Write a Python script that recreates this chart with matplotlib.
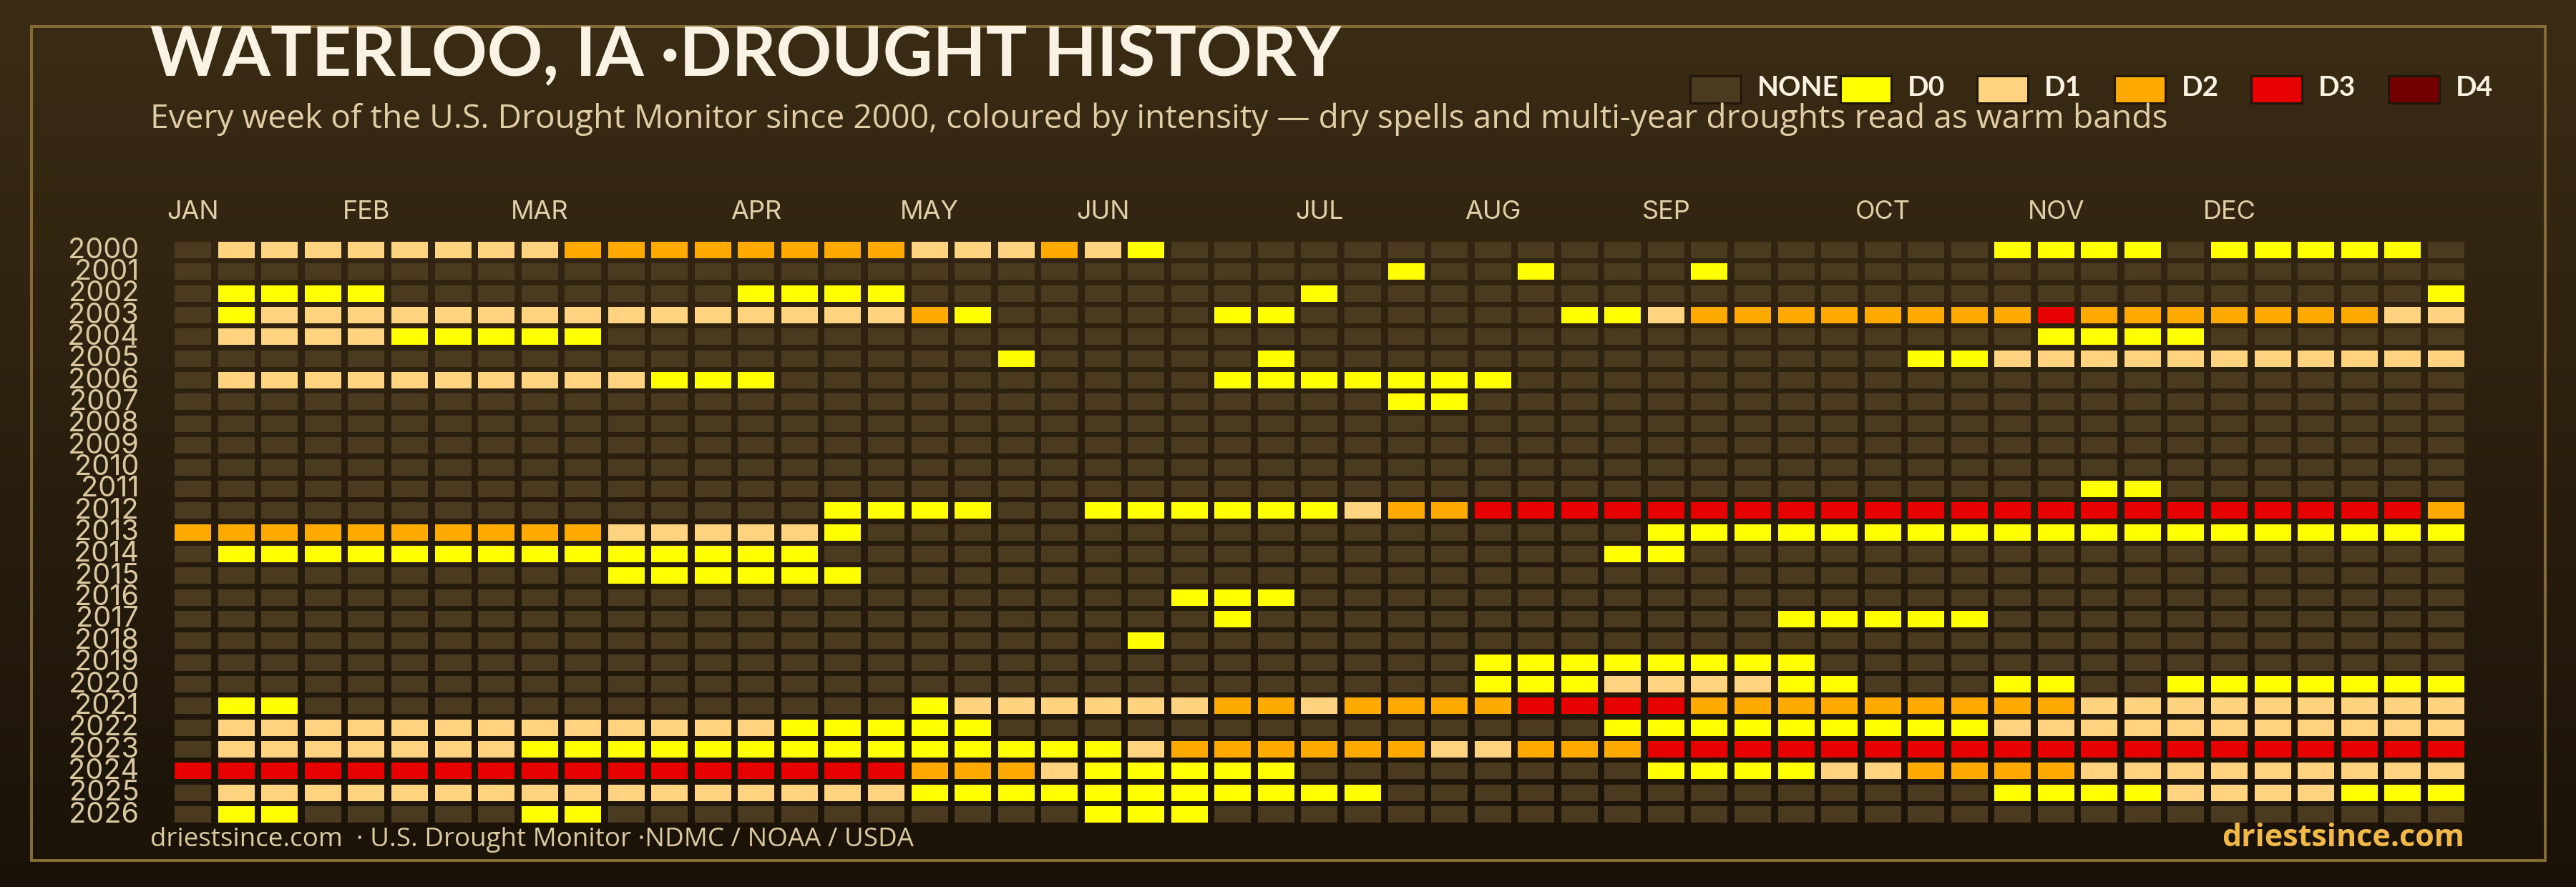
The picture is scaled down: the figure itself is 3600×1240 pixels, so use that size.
import numpy as np
import matplotlib
matplotlib.use('Agg')
import matplotlib.pyplot as plt
from matplotlib.colors import LinearSegmentedColormap
from matplotlib.patches import Rectangle

plt.rcParams['font.family'] = ['Open Sans', 'DejaVu Sans']

years = list(range(2000, 2027))
month_labels = ['JAN', 'FEB', 'MAR', 'APR', 'MAY', 'JUN', 'JUL', 'AUG', 'SEP', 'OCT', 'NOV', 'DEC']
month_weeks = [0, 4, 8, 13, 17, 21, 26, 30, 34, 39, 43, 47]

# one string per year, one char per week: . = none, 0-4 = D0-D4 (spaces only for reading)
weeks = [
    ".111111112 2222222111 210....... .......... ..0000.000 00.",
    ".......... .......... ........0. .0...0.... .......... ...",
    ".0000..... ...0000... ......0... .......... .......... ..0",
    ".011111111 111111120. ....00.... ..00122222 2223222222 211",
    ".111100000 .......... .......... .......... ...0000... ...",
    ".......... .........0 .....0.... .......... 0011111111 111",
    ".111111111 1000...... ....000000 0......... .......... ...",
    ".......... .......... ........00 .......... .......... ...",
    ".......... .......... .......... .......... .......... ...",
    ".......... .......... .......... .......... .......... ...",
    ".......... .......... .......... .......... .......... ...",
    ".......... .......... .......... .......... ....00.... ...",
    ".......... .....0000. .000000122 3333333333 3333333333 332",
    "2222222222 111110.... .......... ....000000 0000000000 000",
    ".000000000 00000..... .......... ...00..... .......... ...",
    ".......... 000000.... .......... .......... .......... ...",
    ".......... .......... ...000.... .......... .......... ...",
    ".......... .......... ....0..... .......000 00........ ...",
    ".......... .......... ..0....... .......... .......... ...",
    ".......... .......... .......... 00000000.. .......... ...",
    ".......... .......... .......... 000111100. ..00..0000 000",
    ".00....... .......011 1111221222 2333322222 2222111111 111",
    ".111111111 111100000. .......... ...0000000 0011111111 111",
    ".111111100 0000000000 0012222221 1222333333 3333333333 333",
    "3333333333 3333333222 100000.... ....000011 2222111111 111",
    ".111111111 1111111000 00000000.. .......... ..00001111 000",
    ".00.....00 .......... .000...... .......... .......... ...",
]

level_keys = ['.', '0', '1', '2', '3', '4']
level_colors = ['#4a3a1f', '#ffff00', '#ffd37f', '#ffaa00', '#e60000', '#730000']
legend_labels = ['NONE', 'D0', 'D1', 'D2', 'D3', 'D4']

title = 'WATERLOO, IA \u00b7DROUGHT HISTORY'
subtitle = ('Every week of the U.S. Drought Monitor since 2000, coloured by intensity \u2014 '
            'dry spells and multi-year droughts read as warm bands')
footer = 'driestsince.com  \u00b7 U.S. Drought Monitor \u00b7NDMC / NOAA / USDA'
site = 'driestsince.com'

W, H = 3600, 1240
fig = plt.figure(figsize=(W / 100, H / 100), dpi=100)

# background + frame + header live in a full-figure pixel axes
bg = fig.add_axes([0, 0, 1, 1])
bg.axis('off')
grad = LinearSegmentedColormap.from_list('bg', ['#3b2c14', '#1a1208'])
bg.imshow(np.linspace(0, 1, 256).reshape(-1, 1), cmap=grad, extent=[0, W, H, 0], aspect='auto', zorder=0)
bg.set_xlim(0, W)
bg.set_ylim(H, 0)
bg.add_patch(Rectangle((44, 37), 3513, 1166, fill=False, ec='#846a36', lw=2.9, zorder=1))

bg.text(210, 105.5, title, color='#faf3e3', fontsize=69.3, fontweight='bold', family=['Lato', 'DejaVu Sans'],
        va='baseline', zorder=3)
bg.text(210, 179, subtitle, color='#e0cda6', fontsize=33.2, va='baseline', zorder=3)
bg.text(210, 1183, footer, color='#dbc9a2', fontsize=26.5, va='baseline', zorder=3)
bg.text(3444, 1183, site, color='#f0b94a', fontsize=31, fontweight='bold', ha='right', va='baseline', zorder=3)

# legend
swatch_x = [2360, 2570, 2761, 2953, 3144, 3336]
label_x = [2456, 2666, 2857, 3049, 3240, 3432]
for sx, lx, col, lab in zip(swatch_x, label_x, level_colors, legend_labels):
    bg.add_patch(Rectangle((sx + 1.5, 105.5), 71, 38, fc=col, ec='#21160a', lw=2.2, zorder=2))
    bg.text(lx, 134, lab, color='#faf3e3', fontsize=28, fontweight='bold', family=['Lato', 'DejaVu Sans'],
            va='baseline', zorder=3)

# heatmap axes, one unit per week / year
pitch_x, pitch_y = 60.55, 30.35
left = 269.7 - pitch_x / 2
top = 349.5 - pitch_y / 2
ax = fig.add_axes([left / W, 1 - (top + 27 * pitch_y) / H, 53 * pitch_x / W, 27 * pitch_y / H])
ax.patch.set_alpha(0)
ax.set_xlim(-0.5, 52.5)
ax.set_ylim(26.5, -0.5)
for s in ax.spines.values():
    s.set_visible(False)

cw, ch = 51 / pitch_x, 23 / pitch_y
for r, row in enumerate(weeks):
    row = row.replace(' ', '')
    assert len(row) == 53, (r, len(row))
    for c, v in enumerate(row):
        ax.add_patch(Rectangle((c - cw / 2, r - ch / 2), cw, ch, fc=level_colors[level_keys.index(v)], lw=0))

inter = ['Inter', 'DejaVu Sans']
ax.xaxis.tick_top()
ax.set_xticks(month_weeks, month_labels, family=inter)
ax.tick_params(axis='x', length=0, pad=15, labelsize=26, labelcolor='#e0cfa8')
ax.set_yticks(np.arange(len(years)) - 0.115, [str(y) for y in years], family=inter)
ax.tick_params(axis='y', length=0, pad=32.7, labelsize=28.5, labelcolor='#d9c8a0')

fig.savefig('out.png', dpi=100)
